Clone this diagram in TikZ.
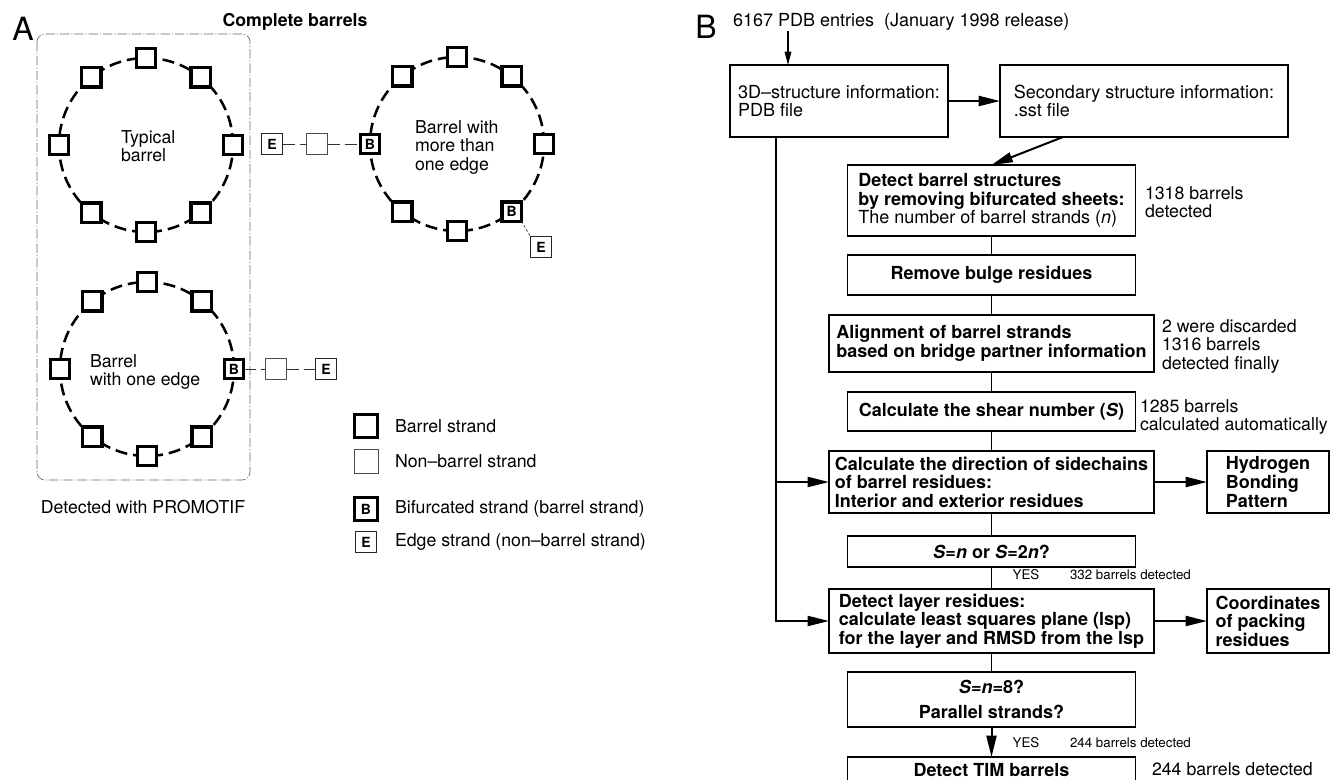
\documentclass[tikz,border=0pt]{standalone}
\usepackage{fontspec}
\setmainfont{TeX Gyre Heros}
\usetikzlibrary{arrows.meta}
\begin{document}
\begin{tikzpicture}[x=0.75pt,y=-0.75pt,
  every node/.style={inner sep=0pt,outer sep=0pt},
  txt/.style={font=\fontsize{13.3}{13.9}\selectfont, align=left},
  small/.style={font=\fontsize{10}{10}\selectfont},
  biglab/.style={font=\fontsize{24}{24}\selectfont},
  circ/.style={line width=1.9pt, dash pattern=on 9pt off 4.5pt},
  bsq/.style={draw, line width=2.5pt, fill=white, minimum size=14.5pt, font=\fontsize{10.5}{10.5}\selectfont\bfseries},
  nsq/.style={draw=black!70, line width=0.7pt, fill=white, minimum size=16pt},
  esq/.style={draw=black!85, line width=0.8pt, fill=white, minimum size=16pt, font=\fontsize{10.5}{10.5}\selectfont\bfseries},
  lgb/.style={draw, line width=2.5pt, fill=white, minimum size=17pt, font=\fontsize{10.5}{10.5}\selectfont\bfseries},
  lgn/.style={draw=black!70, line width=0.7pt, fill=white, minimum size=18pt},
  lge/.style={draw=black!85, line width=0.8pt, fill=white, minimum size=16pt, font=\fontsize{10.5}{10.5}\selectfont\bfseries},
  chainln/.style={line width=0.6pt, draw=black!80, dash pattern=on 9pt off 3.8pt},
  dotln/.style={line width=0.6pt, draw=black!70, dash pattern=on 2pt off 1.5pt},
  framebox/.style={draw=black!60, line width=0.5pt, dash pattern=on 7pt off 1.5pt on 0.8pt off 1.5pt, rounded corners=6pt},
  sz/.style 2 args={minimum width=#1*0.75pt, minimum height=#2*0.75pt},
  fbox/.style={draw, line width=0.9pt, align=left, font=\fontsize{13.5}{13.9}\selectfont},
  bbox/.style={fbox, font=\fontsize{13.5}{13.9}\selectfont\bfseries},
  side/.style={anchor=west, align=left, font=\fontsize{13.3}{13.9}\selectfont},
  con/.style={line width=1.4pt},
  arr/.style={line width=1.5pt, -{Triangle[length=16pt,width=7.5pt]}},
  sarr/.style={line width=0.8pt, -{Triangle[length=10pt,width=5pt]}}
]
\useasboundingbox (0,0) rectangle (1331,779);
\clip (0,0) rectangle (1331,779);

% ---------------- Panel A ----------------
\node[biglab] (labA) at (23,29) {A};
\node[txt, font=\fontsize{13.3}{13.9}\selectfont\bfseries] (ttl) at (295,22) {Complete barrels};
\draw[framebox] (37,34) rectangle (250,480);

% circle 1: typical barrel
\coordinate (c1) at (146,145);
\draw[circ] (c1) circle[radius=65.25pt];
\foreach \a in {0,51,90,129,180,231,270,309}
  \path (c1) ++(\a:87) node[bsq] (t\a) {};
\node[txt, anchor=west] (t1txt) at (121,146) {Typical\\barrel};

% circle 2: more than one edge
\coordinate (c2) at (457,144);
\draw[circ] (c2) circle[radius=65.25pt];
\foreach \a in {0,90,129,231,270,309}
  \path (c2) ++(\a:87) node[bsq] (m\a) {};
\path (c2) ++(180:87) node[bsq] (m180) {B};
\path (c2) ++(51:87) node[bsq] (m51) {B};
\node[esq] (e1) at (272,144) {E};
\node[nsq] (n1) at (317,144) {};
\draw[chainln] (e1.east) -- (n1.west);
\draw[chainln] (n1.east) -- (m180.west);
\node[esq] (e2) at (541,247) {E};
\draw[dotln] (m51.south east) -- (e2.north west);
\node[txt, anchor=west] (t2txt) at (415,147) {Barrel with\\more than\\one edge};

% circle 3: one edge
\coordinate (c3) at (147,369);
\draw[circ] (c3) circle[radius=65.25pt];
\foreach \a in {51,90,129,180,231,270,309}
  \path (c3) ++(\a:87) node[bsq] (o\a) {};
\path (c3) ++(0:87) node[bsq] (o0) {B};
\node[nsq] (n2) at (276,369) {};
\node[esq] (e3) at (326,369) {E};
\draw[chainln] (o0.east) -- (n2.west);
\draw[chainln] (n2.east) -- (e3.west);
\node[txt, anchor=west] (t3txt) at (90,372) {Barrel\\with one edge};

\node[txt] (promo) at (143,507) {Detected with PROMOTIF};

% legend
\node[lgb] (L1) at (366,426) {};
\node[txt, anchor=west] (L1t) at (395,426) {Barrel strand};
\node[lgn] (L2) at (366,461) {};
\node[txt, anchor=west] (L2t) at (395,461) {Non–barrel strand};
\node[lgb] (L3) at (366,509) {B};
\node[txt, anchor=west] (L3t) at (395,509) {Bifurcated strand (barrel strand)};
\node[lge] (L4) at (366,542) {E};
\node[txt, anchor=west] (L4t) at (395,542) {Edge strand (non–barrel strand)};

% ---------------- Panel B ----------------
\node[biglab] (labB) at (706,27) {B};
\node[txt, anchor=west, font=\fontsize{13.5}{13.9}\selectfont] (src) at (733,22) {6167 PDB entries\ \ (January 1998 release)};
\coordinate (srcpt) at (788,31);

\node[fbox, sz={218}{72}] (d3) at (839,101) {3D–structure information:\\PDB file};
\node[fbox, sz={288}{72}] (sec) at (1144,101) {Secondary structure information:\\.sst file};
\node[bbox, sz={288}{71}] (dbar) at (991.5,200.5) {Detect barrel structures\\by removing bifurcated sheets:\\\mdseries The number of barrel strands (\textit{n})};
\node[bbox, align=center, sz={288}{40}] (bulge) at (991.5,275) {Remove bulge residues};
\node[bbox, sz={325}{57}] (aln) at (991.5,343.5) {Alignment of barrel strands\\based on bridge partner information};
\node[bbox, align=center, sz={288}{39}] (shear) at (991.5,411.5) {Calculate the shear number (\textit{S})};
\node[bbox, sz={325}{62}] (calc) at (991.5,482) {Calculate the direction of sidechains\\of barrel residues:\\Interior and exterior residues};
\node[bbox, sz={122}{62}] (hyd) at (1268,482) {Hydrogen\\Bonding\\Pattern};
\node[bbox, align=center, sz={288}{31}] (sn) at (991.5,551.5) {\textit{S}=\textit{n} or \textit{S}=2\textit{n}?};
\node[bbox, sz={325}{64}] (lay) at (991.5,621) {Detect layer residues:\\calculate least squares plane (lsp)\\for the layer and RMSD from the lsp};
\node[bbox, sz={122}{64}] (crd) at (1268,621) {Coordinates\\of packing\\residues};
\node[bbox, align=center, sz={288}{55}] (sn8) at (991.5,699.5) {\textit{S}=\textit{n}=8?\\[5pt]Parallel strands?};
\node[bbox, align=center, sz={288}{26}] (tim) at (991.5,770) {Detect TIM barrels};

% side notes
\node[side] (s1) at (1145,202) {1318 barrels\\detected};
\node[side] (s2) at (1162,346) {2 were discarded\\1316 barrels\\detected finally};
\node[side] (s3) at (1140,417) {1285 barrels\\calculated automatically};
\node[small] (y1) at (1026,575) {YES};
\node[small, anchor=west] (s4) at (1070,575) {332 barrels detected};
\node[small] (y2) at (1026,743) {YES};
\node[small, anchor=west] (s5) at (1070,743) {244 barrels detected};
\node[side] (s6) at (1152,769) {244 barrels detected};

% connectors
\draw[sarr] (srcpt) -- (srcpt |- d3.north);
\draw[arr] (d3.east) -- (sec.west);
\draw[arr] ([xshift=47.25pt]sec.south west) -- (dbar.north);
\coordinate (tk) at ([xshift=34.5pt]d3.south west);
\draw[arr] (tk) |- (lay.west);
\draw[arr] (tk |- calc.west) -- (calc.west);
\draw[con] (dbar.south) -- (bulge.north);
\draw[con] (bulge.south) -- (aln.north);
\draw[con] (aln.south) -- (shear.north);
\draw[con] (shear.south) -- (calc.north);
\draw[con] (calc.south) -- (sn.north);
\draw[con] (sn.south) -- (lay.north);
\draw[con] (lay.south) -- (sn8.north);
\draw[arr] (sn8.south) -- (tim.north);
\draw[arr] (calc.east) -- (hyd.west);
\draw[arr] (lay.east) -- (crd.west);
\end{tikzpicture}
\end{document}
